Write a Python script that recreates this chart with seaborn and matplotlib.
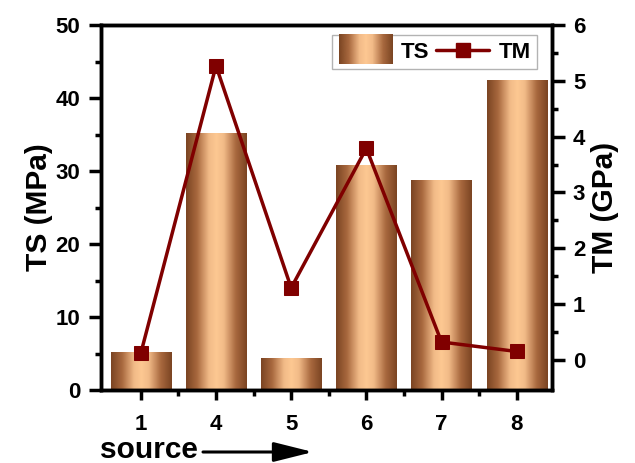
import numpy as np
import pandas as pd
import matplotlib
matplotlib.use("Agg")
import matplotlib.pyplot as plt
import seaborn as sns
from matplotlib.colors import LinearSegmentedColormap
from matplotlib.patches import Rectangle
from matplotlib.legend_handler import HandlerBase
from matplotlib.lines import Line2D

sources = ["1", "4", "5", "6", "7", "8"]
ts_values = [5.2, 35.2, 4.4, 30.8, 28.8, 42.5]
tm_values = [0.12, 5.27, 1.29, 3.79, 0.32, 0.15]

sns.set_theme(style="ticks")
plt.rcParams['font.family'] = ['Liberation Sans', 'DejaVu Sans']
plt.rcParams['font.weight'] = 'bold'
for k in ("text.color", "axes.labelcolor", "xtick.color", "ytick.color", "axes.edgecolor"):
    plt.rcParams[k] = "black"

df = pd.DataFrame({"source": sources, "TS": ts_values, "TM": tm_values})

fig = plt.figure(figsize=(6.35, 4.63), dpi=100)
ax = fig.add_axes([101/635, 1-390/463, 451/635, 365/463])

sns.barplot(data=df, x="source", y="TS", ax=ax, width=0.8, color="#f5c08c",
            edgecolor="none", zorder=1)

cmap = LinearSegmentedColormap.from_list(
    "copper_grad",
    [(0.0, "#7a4422"), (0.18, "#a8683e"), (0.38, "#f2bb88"), (0.5, "#fdc892"),
     (0.62, "#f2bb88"), (0.82, "#a8683e"), (1.0, "#7a4422")])
grad = np.linspace(0, 1, 256).reshape(1, -1)

for p in list(ax.patches):
    x0, y0 = p.get_x(), p.get_y()
    w, h = p.get_width(), p.get_height()
    im = ax.imshow(grad, cmap=cmap, aspect="auto", extent=(x0, x0 + w, y0, y0 + h),
                   zorder=1.5, interpolation="bicubic")
    im.set_clip_path(p)

ax.set_xlim(-0.53, 5.47)
ax.set_ylim(0, 50)
ax.set_yticks(np.arange(0, 51, 10))
ax.set_yticks(np.arange(0, 51, 5), minor=True)
ax.set_xticks(np.arange(0.5, 5.5, 1), minor=True)
ax.set_xlabel("")
ax.set_ylabel("TS (MPa)", fontsize=21.5, fontweight="bold", labelpad=2)

ax2 = ax.twinx()
sns.lineplot(data=df, x="source", y="TM", ax=ax2, color="#800000", linewidth=2.5,
             marker="s", markersize=9.5, markeredgecolor="#800000", zorder=3)
ax2.set_ylim(-0.54, 6)
ax2.set_yticks(np.arange(0, 7, 1))
ax2.set_yticks(np.arange(0, 6.01, 0.5), minor=True)
ax2.set_ylabel("TM (GPa)", fontsize=21.5, fontweight="bold", labelpad=4)
ax2.set_xlim(-0.53, 5.47)

for a in (ax, ax2):
    for s in a.spines.values():
        s.set_linewidth(2.5)
        s.set_color("black")
        s.set_visible(True)
    a.tick_params(which="major", length=9, width=2.5, labelsize=16, direction="out",
                  color="black", labelcolor="black", pad=6)
    a.tick_params(which="minor", length=4, width=2.5, direction="out", color="black")
    for lab in a.get_xticklabels() + a.get_yticklabels():
        lab.set_fontweight("bold")
ax.tick_params(axis="x", which="major", length=7, pad=10)

# legend
class GradHandler(HandlerBase):
    def create_artists(self, legend, orig_handle, xdescent, ydescent, width, height, fontsize, trans):
        bb = matplotlib.transforms.Bbox.from_bounds(-xdescent, -ydescent - 5, width, height + 10)
        img = matplotlib.image.BboxImage(
            matplotlib.transforms.TransformedBbox(bb, trans),
            cmap=cmap, interpolation="bicubic")
        img.set_data(grad)
        return [img]

bar_handle = Rectangle((0, 0), 1, 1)
line_handle = Line2D([], [], color="#800000", linewidth=2.5, marker="s", markersize=9.5)
leg = ax2.legend([bar_handle, line_handle], ["TS", "TM"],
                 handler_map={Rectangle: GradHandler()},
                 loc="upper right", bbox_to_anchor=(0.967, 0.973), ncol=2,
                 prop={"weight": "bold", "size": 16}, frameon=True, fancybox=False,
                 edgecolor="#a0a0a0", handlelength=2.4, handletextpad=0.4, columnspacing=0.3,
                 borderpad=0.3, borderaxespad=0.0)
leg.get_frame().set_linewidth(1.0)

fig.text(100/635, 1-458/463, "source", fontsize=21.5, fontweight="bold", va="baseline", ha="left")
fig.add_artist(matplotlib.patches.FancyArrowPatch(
    (203/635, 1-452/463), (313/635, 1-452/463), transform=fig.transFigure,
    arrowstyle="-|>,head_length=1.2,head_width=0.3", mutation_scale=20,
    color="black", linewidth=2.2, shrinkA=0, shrinkB=0))

fig.savefig("out.png", dpi=100)
